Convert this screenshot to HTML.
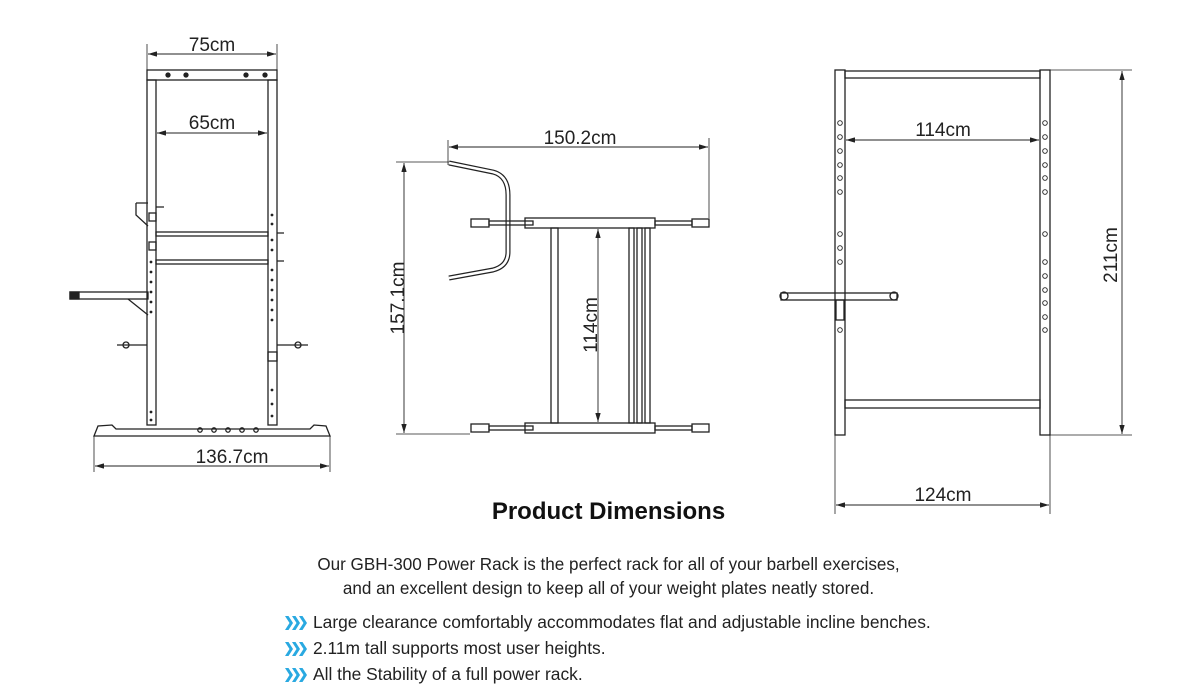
<!DOCTYPE html>
<html><head><meta charset="utf-8"><style>
body{margin:0;width:1200px;height:699px;background:#fff;overflow:hidden;font-family:"Liberation Sans",sans-serif;color:#222;position:relative}
svg{position:absolute;left:0;top:0}
.t{position:absolute;white-space:nowrap}
</style></head><body>
<svg width="1200" height="699" viewBox="0 0 1200 699" fill="none" stroke="#222" stroke-width="1.3" font-family="Liberation Sans, sans-serif">
<defs><marker id="a" viewBox="0 0 10 6" refX="10" refY="3" markerWidth="10" markerHeight="6" orient="auto-start-reverse"><path d="M0,0L10,3L0,6z" fill="#222" stroke="none"/></marker></defs>
<g>
<line x1="147" y1="44" x2="147" y2="70" stroke-width="0.8"/><line x1="277" y1="44" x2="277" y2="70" stroke-width="0.8"/>
<line x1="148" y1="54" x2="276" y2="54" marker-start="url(#a)" marker-end="url(#a)" stroke-width="0.9"/>
<rect x="147" y="70" width="130" height="10"/>
<circle cx="168" cy="75" r="2" fill="#222"/><circle cx="186" cy="75" r="2" fill="#222"/><circle cx="246" cy="75" r="2" fill="#222"/><circle cx="265" cy="75" r="2" fill="#222"/>
<rect x="147" y="80" width="9" height="345"/><rect x="268" y="80" width="9" height="345"/>
<line x1="157" y1="133" x2="267" y2="133" marker-start="url(#a)" marker-end="url(#a)" stroke-width="0.9"/>
<rect x="156" y="232" width="112" height="4"/><rect x="156" y="260" width="112" height="4"/>
<rect x="149" y="213" width="7" height="8"/><rect x="149" y="242" width="7" height="8"/><rect x="268" y="352" width="9" height="9"/>
<path d="M136 203 L136 215 L148 226 M136 203 L148 203 M156 207 L164 207 M277 233 L284 233 M277 261 L284 261"/>
<rect x="70" y="292" width="78" height="7"/><rect x="70" y="292" width="9" height="7" fill="#222"/>
<path d="M128 299 L148 315"/>
<path d="M117 345 L147 345 M277 345 L308 345"/><circle cx="126" cy="345" r="3"/><circle cx="298" cy="345" r="3"/>
<g fill="#222" stroke="none">
<circle cx="272" cy="215" r="1.4"/><circle cx="272" cy="224" r="1.4"/><circle cx="272" cy="240" r="1.4"/><circle cx="272" cy="250" r="1.4"/><circle cx="272" cy="270" r="1.4"/><circle cx="272" cy="280" r="1.4"/><circle cx="272" cy="290" r="1.4"/><circle cx="272" cy="300" r="1.4"/><circle cx="272" cy="310" r="1.4"/><circle cx="272" cy="320" r="1.4"/>
<circle cx="151" cy="262" r="1.4"/><circle cx="151" cy="272" r="1.4"/><circle cx="151" cy="282" r="1.4"/><circle cx="151" cy="292" r="1.4"/><circle cx="151" cy="302" r="1.4"/><circle cx="151" cy="312" r="1.4"/>
<circle cx="151" cy="412" r="1.4"/><circle cx="151" cy="420" r="1.4"/><circle cx="272" cy="390" r="1.4"/><circle cx="272" cy="404" r="1.4"/><circle cx="272" cy="416" r="1.4"/>
</g>
<path d="M94 436 L98 426 L112 425 L116 429 L310 429 L314 425 L326 426 L330 436 Z"/>
<circle cx="200" cy="430" r="2.2"/><circle cx="214" cy="430" r="2.2"/><circle cx="228" cy="430" r="2.2"/><circle cx="242" cy="430" r="2.2"/><circle cx="256" cy="430" r="2.2"/>
<line x1="94" y1="436" x2="94" y2="472" stroke-width="0.8"/><line x1="330" y1="436" x2="330" y2="472" stroke-width="0.8"/>
<line x1="95" y1="466" x2="329" y2="466" marker-start="url(#a)" marker-end="url(#a)" stroke-width="0.9"/>
</g>
<g>
<line x1="448" y1="140" x2="448" y2="165" stroke-width="0.8"/><line x1="709" y1="138" x2="709" y2="218" stroke-width="0.8"/>
<line x1="449" y1="147" x2="708" y2="147" marker-start="url(#a)" marker-end="url(#a)" stroke-width="0.9"/>
<line x1="396" y1="162" x2="450" y2="162" stroke-width="0.8"/><line x1="396" y1="434" x2="470" y2="434" stroke-width="0.8"/>
<line x1="404" y1="163" x2="404" y2="433" marker-start="url(#a)" marker-end="url(#a)" stroke-width="0.9"/>
<path d="M449 163 L493 172 Q508 176 508 195 L508 252 Q508 266 493 270 L449 278" stroke-width="5" stroke="#222"/>
<path d="M449 163 L493 172 Q508 176 508 195 L508 252 Q508 266 493 270 L449 278" stroke-width="2.6" stroke="#fff"/>
<rect x="471" y="219" width="18" height="8"/><rect x="692" y="219" width="17" height="8"/>
<rect x="489" y="221" width="44" height="4"/><rect x="655" y="221" width="37" height="4"/>
<rect x="525" y="218" width="130" height="10"/>
<rect x="471" y="424" width="18" height="8"/><rect x="692" y="424" width="17" height="8"/>
<rect x="489" y="426" width="44" height="4"/><rect x="655" y="426" width="37" height="4"/>
<rect x="525" y="423" width="130" height="10"/>
<rect x="551" y="228" width="7" height="195"/><rect x="629" y="228" width="5" height="195"/><rect x="637" y="228" width="5" height="195"/><rect x="645" y="228" width="5" height="195"/>
<line x1="598" y1="229" x2="598" y2="422" marker-start="url(#a)" marker-end="url(#a)" stroke-width="0.9"/>
</g>
<g>
<rect x="835" y="70" width="10" height="365"/><rect x="1040" y="70" width="10" height="365"/>
<rect x="845" y="71" width="195" height="7"/>
<rect x="845" y="400" width="195" height="8"/>
<g stroke-width="0.9">
<circle cx="840" cy="123" r="2.3"/><circle cx="840" cy="137" r="2.3"/><circle cx="840" cy="151" r="2.3"/><circle cx="840" cy="165" r="2.3"/><circle cx="840" cy="178" r="2.3"/><circle cx="840" cy="192" r="2.3"/><circle cx="840" cy="234" r="2.3"/><circle cx="840" cy="248" r="2.3"/><circle cx="840" cy="262" r="2.3"/><circle cx="840" cy="330" r="2.3"/>
<circle cx="1045" cy="123" r="2.3"/><circle cx="1045" cy="137" r="2.3"/><circle cx="1045" cy="151" r="2.3"/><circle cx="1045" cy="165" r="2.3"/><circle cx="1045" cy="178" r="2.3"/><circle cx="1045" cy="192" r="2.3"/><circle cx="1045" cy="234" r="2.3"/><circle cx="1045" cy="262" r="2.3"/><circle cx="1045" cy="276" r="2.3"/><circle cx="1045" cy="290" r="2.3"/><circle cx="1045" cy="303" r="2.3"/><circle cx="1045" cy="317" r="2.3"/><circle cx="1045" cy="330" r="2.3"/>
</g>
<rect x="781" y="293" width="116" height="7"/><circle cx="784" cy="296" r="4"/><circle cx="894" cy="296" r="4"/>
<rect x="836" y="300" width="8" height="20"/>
<line x1="1050" y1="70" x2="1132" y2="70" stroke-width="0.8"/><line x1="1050" y1="435" x2="1132" y2="435" stroke-width="0.8"/>
<line x1="1122" y1="71" x2="1122" y2="434" marker-start="url(#a)" marker-end="url(#a)" stroke-width="0.9"/>
<line x1="846" y1="140" x2="1039" y2="140" marker-start="url(#a)" marker-end="url(#a)" stroke-width="0.9"/>
<line x1="835" y1="435" x2="835" y2="514" stroke-width="0.8"/><line x1="1050" y1="435" x2="1050" y2="514" stroke-width="0.8"/>
<line x1="836" y1="505" x2="1049" y2="505" marker-start="url(#a)" marker-end="url(#a)" stroke-width="0.9"/>
</g>
<g fill="#222" stroke="none" font-size="19" text-anchor="middle">
<text x="212" y="51">75cm</text>
<text x="212" y="129">65cm</text>
<text x="232" y="463">136.7cm</text>
<text x="580" y="144">150.2cm</text>
<text x="943" y="136">114cm</text>
<text x="943" y="501">124cm</text>
<text transform="translate(404,298) rotate(-90)">157.1cm</text>
<text transform="translate(597,325) rotate(-90)">114cm</text>
<text transform="translate(1117,255) rotate(-90)">211cm</text>
</g>
<g fill="#29a9e1" stroke="none">
<path d="M285 616 l4.5 7 l-4.5 7 h3.5 l4.5 -7 l-4.5 -7z M292 616 l4.5 7 l-4.5 7 h3.5 l4.5 -7 l-4.5 -7z M299 616 l4.5 7 l-4.5 7 h3.5 l4.5 -7 l-4.5 -7z"/>
<path d="M285 642 l4.5 7 l-4.5 7 h3.5 l4.5 -7 l-4.5 -7z M292 642 l4.5 7 l-4.5 7 h3.5 l4.5 -7 l-4.5 -7z M299 642 l4.5 7 l-4.5 7 h3.5 l4.5 -7 l-4.5 -7z"/>
<path d="M285 668 l4.5 7 l-4.5 7 h3.5 l4.5 -7 l-4.5 -7z M292 668 l4.5 7 l-4.5 7 h3.5 l4.5 -7 l-4.5 -7z M299 668 l4.5 7 l-4.5 7 h3.5 l4.5 -7 l-4.5 -7z"/>
</g>
</svg>
<div class="t" style="left:0;width:1217px;text-align:center;top:498px;font-size:24px;font-weight:bold;color:#111">Product Dimensions</div>
<div class="t" style="left:0;width:1217px;text-align:center;top:553px;font-size:17.1px;line-height:24px">Our GBH-300 Power Rack is the perfect rack for all of your barbell exercises,<br>and an excellent design to keep all of your weight plates neatly stored.</div>
<div class="t" style="left:313px;top:612px;font-size:17.4px">Large clearance comfortably accommodates flat and adjustable incline benches.</div>
<div class="t" style="left:313px;top:638px;font-size:17.4px">2.11m tall supports most user heights.</div>
<div class="t" style="left:313px;top:664px;font-size:17.4px">All the Stability of a full power rack.</div>
</body></html>
